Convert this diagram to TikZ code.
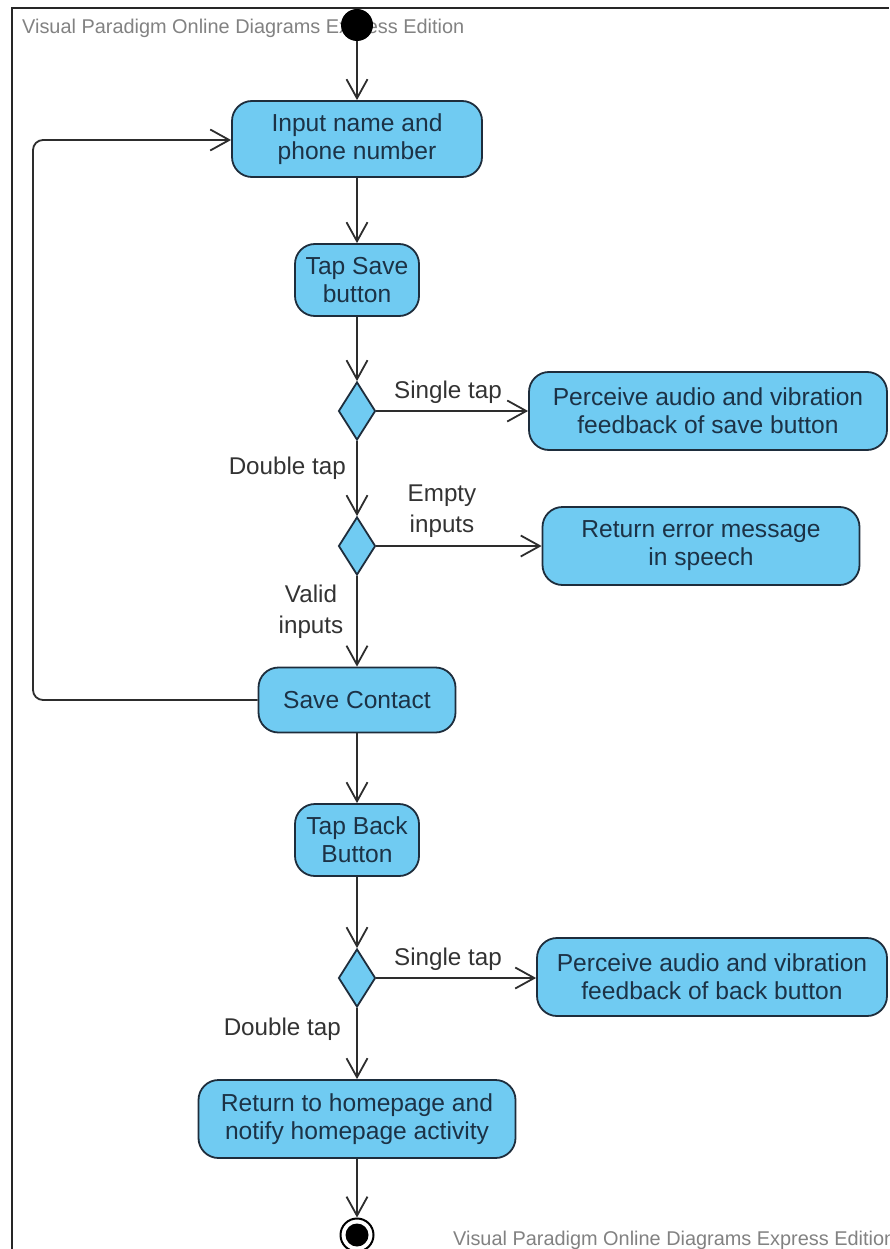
\documentclass[tikz,border=0pt]{standalone}
\usepackage{fontspec}
\setmainfont{Liberation Sans}
\usetikzlibrary{shapes.geometric,arrows.meta}
\definecolor{actfill}{RGB}{112,203,242}
\definecolor{actline}{RGB}{30,45,60}
\definecolor{acttext}{RGB}{28,50,70}
\definecolor{flowline}{RGB}{45,45,45}
\definecolor{marktext}{RGB}{130,130,130}
\begin{document}
\begin{tikzpicture}[x=1pt,y=-1pt,
  activity/.style={draw=actline,line width=1.8pt,fill=actfill,rounded corners=20pt,
    align=center,text=acttext,inner sep=0pt,
    font=\fontsize{24.6}{28}\selectfont},
  decision/.style={draw=actline,line width=1.8pt,fill=actfill,diamond,inner sep=0pt,
    minimum width=37pt,minimum height=58pt},
  flow/.style={draw=flowline,line width=1.8pt,-{Straight Barb[length=19pt,width=21pt,line width=1.8pt]}},
  guard/.style={text=black!80,align=center,inner sep=0pt,font=\fontsize{24.2}{31}\selectfont},
  wmark/.style={text=marktext,inner sep=0pt,font=\fontsize{19.9}{22}\selectfont}]
\useasboundingbox (0,0) rectangle (889,1249);
\fill[white] (0,0) rectangle (889,1249);
% diagram frame
\draw[line width=2pt,black!85] (12,1249) -- (12,8) -- (889,8);
\node[wmark,anchor=west] (wmtop) at (22,28) {Visual Paradigm Online Diagrams Express Edition};
\node[wmark,anchor=west] (wmbot) at (453,1240) {Visual Paradigm Online Diagrams Express Edition};

% initial and final states
\node[circle,fill=black,minimum size=32pt,inner sep=0pt] (start) at (357,25) {};
\node[circle,draw=black,line width=2pt,fill=white,minimum size=33pt,inner sep=0pt] (final) at (357,1235) {};
\node[circle,fill=black,minimum size=23pt,inner sep=0pt] (finalin) at (357,1235) {};

% activities
\node[activity,minimum width=250pt,minimum height=76pt] (input) at (357,139) {Input name and\\phone number};
\node[activity,minimum width=124pt,minimum height=72pt] (tapsave) at (357,280) {Tap Save\\button};
\node[decision] (d1) at (357,411) {};
\node[activity,minimum width=358pt,minimum height=78pt] (fbsave) at (708,411) {Perceive audio and vibration\\feedback of save button};
\node[decision] (d2) at (357,546) {};
\node[activity,minimum width=317pt,minimum height=78pt] (err) at (701,546) {Return error message\\in speech};
\node[activity,minimum width=197pt,minimum height=65pt] (save) at (357,700) {Save Contact};
\node[activity,minimum width=124pt,minimum height=72pt] (tapback) at (357,840) {Tap Back\\Button};
\node[decision] (d3) at (357,978) {};
\node[activity,minimum width=350pt,minimum height=78pt] (fbback) at (712,977) {Perceive audio and vibration\\feedback of back button};
\node[activity,minimum width=317pt,minimum height=78pt] (home) at (357,1119) {Return to homepage and\\notify homepage activity};

% control flows
\draw[flow] (start) -- (input);
\draw[flow] (input) -- (tapsave);
\draw[flow] (tapsave) -- (d1);
\draw[flow] (d1.east) -- (fbsave.west |- d1.east);
\draw[flow] (d1) -- (d2);
\draw[flow] (d2.east) -- (err.west |- d2.east);
\draw[flow] (d2) -- (save);
\draw[flow,rounded corners=10pt] (save.west) -- (33,700) -- (33,140) -- (input.west |- 0,140);
\draw[flow] (save) -- (tapback);
\draw[flow] (tapback) -- (d3);
\draw[flow] (d3.east) -- (fbback.west |- d3.east);
\draw[flow] (d3) -- (home);
\draw[flow] (home) -- (final);

% guards
\node[guard] (g1) at (448,392) {Single tap};
\node[guard,anchor=east] (g2) at (346,468) {Double tap};
\node[guard] (g3) at (442,511) {Empty\\inputs};
\node[guard] (g4) at (311,612) {Valid\\inputs};
\node[guard] (g5) at (448,959) {Single tap};
\node[guard,anchor=east] (g6) at (341,1029) {Double tap};
\end{tikzpicture}
\end{document}
